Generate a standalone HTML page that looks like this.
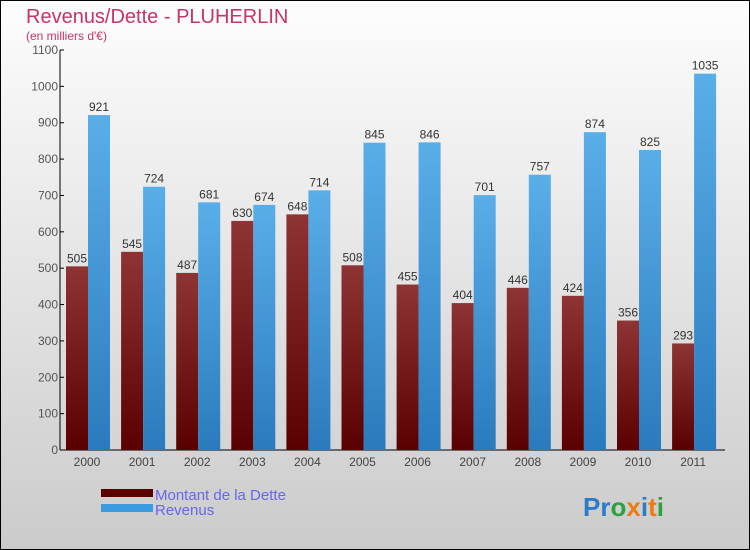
<!DOCTYPE html>
<html><head><meta charset="utf-8"><style>
body{margin:0;}
#wrap{width:750px;height:550px;position:relative;overflow:hidden;}
svg text{font-family:"Liberation Sans",sans-serif;}
</style></head><body>
<div id="wrap">
<svg id="c" width="750" height="550" xmlns="http://www.w3.org/2000/svg">
<defs>
<linearGradient id="bg" x1="0" y1="0" x2="0" y2="1"><stop offset="0" stop-color="#fdfdfd"/><stop offset="1" stop-color="#cbcbcb"/></linearGradient>
<linearGradient id="gd" x1="0" y1="0" x2="0" y2="1"><stop offset="0" stop-color="#8e3434"/><stop offset="1" stop-color="#5a0000"/></linearGradient>
<linearGradient id="gr" x1="0" y1="0" x2="0" y2="1"><stop offset="0" stop-color="#5aaee8"/><stop offset="1" stop-color="#2a7bbd"/></linearGradient>
</defs>
<rect x="0.5" y="0.5" width="749" height="549" fill="url(#bg)" stroke="#000"/>
<text x="26" y="23" font-size="20" fill="#c8336a">Revenus/Dette - PLUHERLIN</text>
<text x="26" y="40" font-size="12" fill="#c8336a">(en milliers d'€)</text>
<g id="g"></g>
<g>
<rect x="101" y="489" width="52" height="8" fill="#5a0000"/>
<text x="155" y="500" font-size="15" fill="#6666ee">Montant de la Dette</text>
<rect x="101" y="504" width="52" height="8" fill="#3a9be0"/>
<text x="155" y="515" font-size="15" fill="#6666ee">Revenus</text>
</g>
<text x="583" y="516" font-size="26" font-weight="bold"><tspan fill="#2a7bc8">Pr</tspan><tspan fill="#2da040">o</tspan><tspan fill="#f07a10">x</tspan><tspan fill="#2a7bc8">i</tspan><tspan fill="#f07a10">t</tspan><tspan fill="#2da040">i</tspan></text>
</svg></div>
<script>
const years=["2000","2001","2002","2003","2004","2005","2006","2007","2008","2009","2010","2011"];
const dette=[505,545,487,630,648,508,455,404,446,424,356,293];
const revenus=[921,724,681,674,714,845,846,701,757,874,825,1035];
const ticks=[0,100,200,300,400,500,600,700,800,900,1000,1100];
const NS="http://www.w3.org/2000/svg";
const g=document.getElementById('g');
const y=v=>450-v*400/1100;
const x=i=>87+i*55.1;
function mk(t,a){const e=document.createElementNS(NS,t);for(const k in a)e.setAttribute(k,a[k]);g.appendChild(e);return e;}
let e;
e=mk('line',{x1:60,y1:50,x2:60,y2:450,stroke:'#000'});


e=mk('line',{x1:60,y1:450,x2:725,y2:450,stroke:'#000'});


ticks.forEach(t=>{
 e=mk('line',{x1:60,y1:y(t),x2:64,y2:y(t),stroke:'#000'});
 
 
 e=mk('text',{x:58,y:y(t)+4,'font-size':12,fill:'#555','text-anchor':'end'});e.textContent=t;
 
 
});
years.forEach((yr,i)=>{
 const cx=x(i);
 e=mk('rect',{x:cx-21,y:y(dette[i]),width:22,height:450-y(dette[i]),fill:'url(#gd)'});
 
 
 e=mk('rect',{x:cx+1,y:y(revenus[i]),width:22,height:450-y(revenus[i]),fill:'url(#gr)'});
 
 
 e=mk('text',{x:cx-10,y:y(dette[i])-4,'font-size':12,fill:'#333','text-anchor':'middle'});e.textContent=dette[i];
 
 
 e=mk('text',{x:cx+12,y:y(revenus[i])-4,'font-size':12,fill:'#333','text-anchor':'middle'});e.textContent=revenus[i];
 
 
 e=mk('text',{x:cx,y:466,'font-size':12,fill:'#444','text-anchor':'middle'});e.textContent=yr;
 
 
});
</script>
</body></html>
